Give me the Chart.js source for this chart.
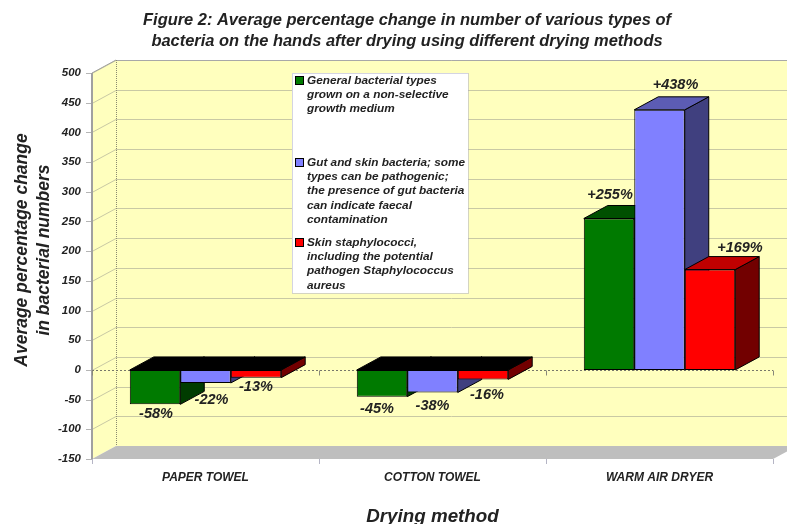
<!DOCTYPE html>
<html>
<head>
<meta charset="utf-8">
<title>Figure 2</title>
<script src="https://cdn.jsdelivr.net/npm/chart.js@4/dist/chart.umd.min.js"></script>
<style>
  html, body { margin: 0; padding: 0; background: #fff; }
  canvas { display: block; filter: blur(0.4px); }
</style>
</head>
<body>
<canvas id="myChart" width="787" height="524"></canvas>
<script>
const categories = ['PAPER TOWEL', 'COTTON TOWEL', 'WARM AIR DRYER'];
const generalTypes = [-58, -45, 255];
const gutAndSkin = [-22, -38, 438];
const skinStaph = [-13, -16, 169];

const titleLines = [
    'Figure 2: Average percentage change in number of various types of',
    'bacteria on the hands after drying using different drying methods'
];
const yTitleLines = ['Average percentage change', 'in bacterial numbers'];
const xTitle = 'Drying method';
const legendGeneral = ['General bacterial types', 'grown on a non-selective', 'growth medium'];
const legendGut = ['Gut and skin bacteria; some', 'types can be pathogenic;', 'the presence of gut bacteria', 'can indicate faecal', 'contamination'];
const legendStaph = ['Skin staphylococci,', 'including the potential', 'pathogen Staphylococcus', 'aureus'];

// depth of the fake 3D box
const DX = 24;
const DY = -13;
const FONT = '"Liberation Sans", Arial, sans-serif';
const TEXT = '#222';

const faces = [
    { front: '#007a00', top: '#005000', side: '#003c00' },
    { front: '#8080ff', top: '#5c5cb4', side: '#40407f' },
    { front: '#ff0000', top: '#c00000', side: '#720000' }
];

// where each value label sits relative to the end of its bar (per dataset, per category)
const labelNudge = [
    [[1, 10], [-5, 12], [1, -23]],
    [[6, 17], [0, 14], [16, -25]],
    [[0, 9], [4, 16], [30, -22]]
];

function poly(c, pts, fill, stroke) {
    c.beginPath();
    pts.forEach((p, i) => i ? c.lineTo(p[0], p[1]) : c.moveTo(p[0], p[1]));
    c.closePath();
    c.fillStyle = fill;
    c.fill();
    if (stroke) {
        c.strokeStyle = stroke;
        c.lineWidth = 1;
        c.stroke();
    }
}

const boxPlugin = {
    id: 'box',
    // walls, floor, gridlines and the depth faces of the bars go under the fronts
    beforeDatasetsDraw(chart) {
        const c = chart.ctx;
        const a = chart.chartArea;
        const y = chart.scales.y;
        const wall = '#ffffbe';
        c.save();
        poly(c, [[a.left + DX, a.top + DY], [chart.width, a.top + DY], [chart.width, a.bottom + DY], [a.left + DX, a.bottom + DY]], wall);
        poly(c, [[a.left, a.top], [a.left + DX, a.top + DY], [a.left + DX, a.bottom + DY], [a.left, a.bottom]], wall);
        poly(c, [[a.left, a.bottom], [a.right, a.bottom], [a.right + DX, a.bottom + DY], [a.left + DX, a.bottom + DY]], '#bebebe');

        y.ticks.forEach(t => {
            const py = Math.round(y.getPixelForValue(t.value)) + 0.5;
            c.strokeStyle = '#c9c9a4';
            c.lineWidth = 1;
            if (t.value > y.min) {
                c.beginPath();
                c.moveTo(a.left, py);
                c.lineTo(a.left + DX, py + DY);
                c.lineTo(chart.width, py + DY);
                c.stroke();
            }
            c.strokeStyle = '#b5b5b5';
            c.beginPath();
            c.moveTo(a.left - 6, py);
            c.lineTo(a.left, py);
            c.stroke();
        });

        // frame of the box
        c.strokeStyle = '#a8a8a8';
        c.beginPath();
        c.moveTo(a.left + DX, a.top + DY + 0.5);
        c.lineTo(chart.width, a.top + DY + 0.5);
        c.stroke();
        c.strokeStyle = '#8a8a70';
        c.setLineDash([1, 1]);
        c.beginPath();
        c.moveTo(a.left + DX + 0.5, a.top + DY);
        c.lineTo(a.left + DX + 0.5, a.bottom + DY);
        c.stroke();
        c.setLineDash([]);
        c.strokeStyle = '#a0a0a0';
        c.lineWidth = 2;
        c.beginPath();
        c.moveTo(a.left, a.top);
        c.lineTo(a.left, a.bottom);
        c.stroke();
        c.lineWidth = 1;
        c.beginPath();
        c.moveTo(a.left, a.top);
        c.lineTo(a.left + DX, a.top + DY);
        c.stroke();

        // zero line with its category ticks, and the ticks under the floor
        const zero = Math.round(y.getPixelForValue(0)) + 0.5;
        c.strokeStyle = '#77776a';
        c.setLineDash([2, 2]);
        c.beginPath();
        c.moveTo(a.left, zero);
        c.lineTo(a.right, zero);
        c.stroke();
        c.setLineDash([]);
        const step = (a.right - a.left) / categories.length;
        for (let i = 0; i <= categories.length; i++) {
            const px = Math.round(a.left + step * i) + 0.5;
            c.strokeStyle = '#88887a';
            c.beginPath();
            c.moveTo(px, zero);
            c.lineTo(px, zero + 5);
            c.stroke();
            c.strokeStyle = '#b5b5c5';
            c.beginPath();
            c.moveTo(px, a.bottom);
            c.lineTo(px, a.bottom + 5);
            c.stroke();
        }

        chart.data.datasets.forEach((ds, i) => {
            chart.getDatasetMeta(i).data.forEach((bar, j) => {
                const l = bar.x - bar.width / 2;
                const r = bar.x + bar.width / 2;
                const hi = Math.min(bar.y, bar.base);
                const lo = Math.max(bar.y, bar.base);
                const topFill = ds.data[j] < 0 ? '#000000' : faces[i].top;
                poly(c, [[r, hi], [r + DX, hi + DY], [r + DX, lo + DY], [r, lo]], faces[i].side, '#000');
                poly(c, [[l, hi], [l + DX, hi + DY], [r + DX, hi + DY], [r, hi]], topFill, '#000');
            });
        });
        c.restore();
    },
    afterDatasetsDraw(chart) {
        const c = chart.ctx;
        c.save();
        c.fillStyle = TEXT;
        c.textBaseline = 'middle';

        // value labels
        c.font = 'italic bold 14.5px ' + FONT;
        c.textAlign = 'center';
        chart.data.datasets.forEach((ds, i) => {
            chart.getDatasetMeta(i).data.forEach((bar, j) => {
                const v = ds.data[j];
                const n = labelNudge[i][j];
                c.fillText((v > 0 ? '+' : '') + v + '%', bar.x + n[0], bar.y + n[1]);
            });
        });

        // legend box
        c.fillStyle = '#fff';
        c.fillRect(292, 73, 176, 220);
        c.strokeStyle = '#a9a9c4';
        c.setLineDash([1, 1]);
        c.strokeRect(292.5, 73.5, 176, 220);
        c.setLineDash([]);
        c.font = 'italic bold 11.8px ' + FONT;
        c.textAlign = 'left';
        [[legendGeneral, 81], [legendGut, 163], [legendStaph, 243]].forEach((entry, i) => {
            c.fillStyle = faces[i].front;
            c.fillRect(295.5, entry[1] - 4.5, 8, 8);
            c.strokeStyle = '#000';
            c.strokeRect(295.5, entry[1] - 4.5, 8, 8);
            c.fillStyle = TEXT;
            entry[0].forEach((line, k) => c.fillText(line, 307, entry[1] + k * 14.1));
        });

        // titles that are off-centre from the plot area
        c.textAlign = 'center';
        c.font = 'italic bold 16.45px ' + FONT;
        titleLines.forEach((line, k) => c.fillText(line, 407, 20 + k * 21));
        c.font = 'italic bold 17.5px ' + FONT;
        yTitleLines.forEach((line, k) => {
            c.save();
            c.translate(22 + k * 22, 250);
            c.rotate(-Math.PI / 2);
            c.fillText(line, 0, 0);
            c.restore();
        });
        c.restore();
    }
};

new Chart(document.getElementById('myChart'), {
    type: 'bar',
    data: {
        labels: categories,
        datasets: [
            { label: legendGeneral.join(' '), data: generalTypes, backgroundColor: faces[0].front },
            { label: legendGut.join(' '), data: gutAndSkin, backgroundColor: faces[1].front },
            { label: legendStaph.join(' '), data: skinStaph, backgroundColor: faces[2].front }
        ]
    },
    plugins: [boxPlugin],
    options: {
        responsive: false,
        animation: false,
        layout: { padding: { top: 73, right: 14, left: 0, bottom: 0 } },
        datasets: {
            bar: { categoryPercentage: 0.667, barPercentage: 1, borderColor: '#000', borderWidth: 1, borderSkipped: false }
        },
        plugins: { legend: { display: false }, tooltip: { enabled: false } },
        scales: {
            x: {
                afterFit(scale) { scale.height = 65; },
                grid: { display: false, drawTicks: false },
                border: { display: false },
                ticks: { color: TEXT, padding: 11, maxRotation: 0, font: { family: FONT, size: 12, weight: 'bold', style: 'italic' } },
                title: {
                    display: true,
                    text: xTitle,
                    color: TEXT,
                    padding: { top: 0, bottom: -4 },
                    font: { family: FONT, size: 18.8, weight: 'bold', style: 'italic' }
                }
            },
            y: {
                min: -150,
                max: 500,
                afterFit(scale) { scale.width = 92; },
                grid: { display: false, drawTicks: false },
                border: { display: false },
                ticks: { stepSize: 50, color: TEXT, padding: 11, font: { family: FONT, size: 11.5, weight: 'bold', style: 'italic' } }
            }
        }
    }
});
</script>
</body>
</html>
